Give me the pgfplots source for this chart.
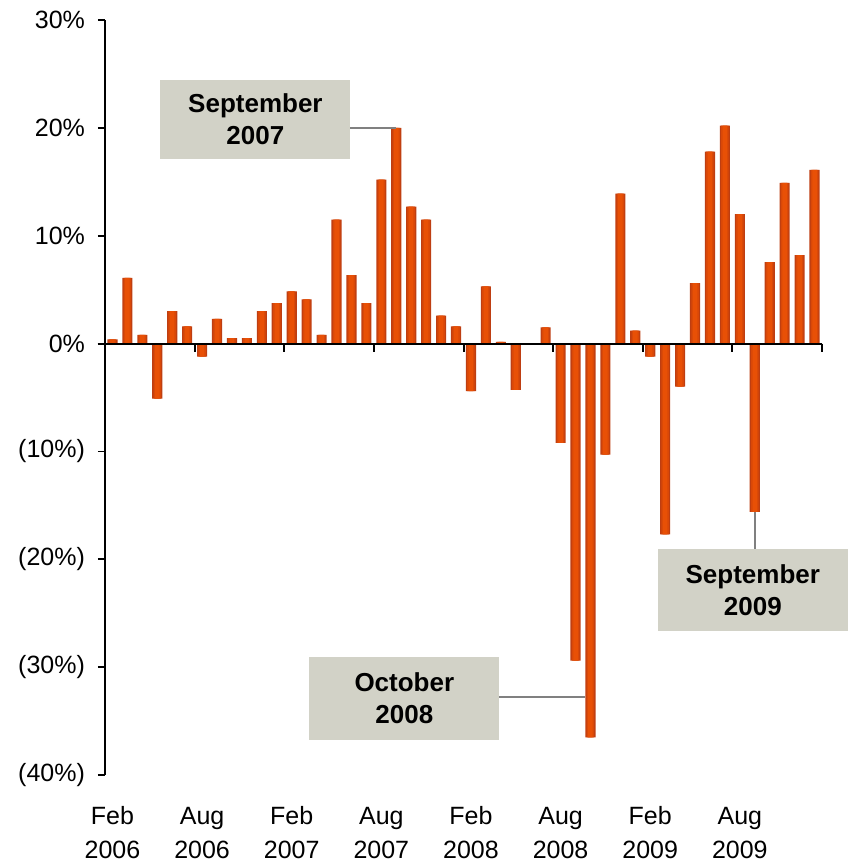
\documentclass[border=0pt]{standalone}
\usepackage{fontspec}
\setmainfont{Liberation Sans}
\usepackage{pgfplots}
\pgfplotsset{compat=1.18}
\definecolor{baredge}{HTML}{BE3E12}
\definecolor{barmix}{HTML}{D94808}
\definecolor{barmid}{HTML}{E85006}
\definecolor{boxfill}{HTML}{D2D2C7}
\definecolor{linkgray}{HTML}{808080}

% monthly change, Feb 2006 .. Jan 2010 (index 0..47)
\pgfplotstableread{
idx val
0 0.4
1 6.1
2 0.8
3 -5.1
4 3.0
5 1.6
6 -1.2
7 2.3
8 0.5
9 0.5
10 3.0
11 3.75
12 4.85
13 4.1
14 0.8
15 11.5
16 6.35
17 3.75
18 15.2
19 20.0
20 12.7
21 11.5
22 2.6
23 1.6
24 -4.4
25 5.3
26 0.15
27 -4.3
28 0
29 1.5
30 -9.2
31 -29.4
32 -36.5
33 -10.3
34 13.9
35 1.2
36 -1.2
37 -17.7
38 -4.0
39 5.6
40 17.8
41 20.2
42 12.0
43 -15.6
44 7.55
45 14.9
46 8.2
47 16.1
}\monthly

\begin{document}
\begin{tikzpicture}
\useasboundingbox (-52.5pt,-43pt) rectangle (373.5pt,387.5pt);
\begin{axis}[
  scale only axis,
  width=358.5pt, height=377.5pt,
  xmin=-0.5, xmax=47.5,
  ymin=-40, ymax=30,
  enlargelimits=false,
  clip=false,
  axis y line*=left,
  axis x line*=bottom,
  x axis line style={draw=none},
  y axis line style={line width=1pt, -},
  tick align=outside,
  major tick length=3.5pt,
  ytick={-40,-30,-20,-10,0,10,20,30},
  yticklabels={(40\%),(30\%),(20\%),(10\%),0\%,10\%,20\%,30\%},
  ytick style={line width=0.8pt, black},
  yticklabel style={font=\fontsize{12.5}{15}\selectfont, xshift=-3pt},
  xtick={0,6,12,18,24,30,36,42},
  xticklabels={{\strut Feb\\2006},{\strut Aug\\2006},{\strut Feb\\2007},{\strut Aug\\2007},
    {\strut Feb\\2008},{\strut Aug\\2008},{\strut Feb\\2009},{\strut Aug\\2009}},
  xtick style={draw=none},
  xticklabel style={align=center, font=\fontsize{12.5}{17}\selectfont, inner sep=1pt, yshift=-8pt},
]
% bars in three layers: dark edges, then lighter cores
\addplot[ybar, bar width=0.68, draw=none, fill=baredge] table[x=idx, y=val] {\monthly};
\addplot[ybar, bar width=0.50, draw=none, fill=barmix] table[x=idx, y=val] {\monthly};
\addplot[ybar, bar width=0.30, draw=none, fill=barmid] table[x=idx, y=val] {\monthly};

% zero line and month ticks
\draw[line width=1pt] (axis cs:-1,0) -- (axis cs:47.5,0);
\pgfplotsinvokeforeach{-0.5,5.5,11.5,17.5,23.5,29.5,35.5,41.5,47.5}{
  \draw[line width=1pt] (axis cs:#1,0) -- ([yshift=-4pt]axis cs:#1,0);
}

% callouts
\node[fill=boxfill, minimum width=95pt, minimum height=39.5pt, align=center,
  font=\bfseries\fontsize{13}{16}\selectfont] at (axis cs:9.57,20.76) {September\\2007};
\draw[linkgray, line width=1pt] (axis cs:15.93,20) -- (axis cs:19,20);

\node[fill=boxfill, minimum width=95pt, minimum height=41.5pt, align=center,
  font=\bfseries\fontsize{13}{16}\selectfont] at (axis cs:19.54,-32.9) {October\\2008};
\draw[linkgray, line width=1pt] (axis cs:25.9,-32.8) -- (axis cs:31.66,-32.8);

\node[fill=boxfill, minimum width=95pt, minimum height=41pt, align=center,
  font=\bfseries\fontsize{13}{16}\selectfont] at (axis cs:42.87,-22.85) {September\\2009};
\draw[linkgray, line width=1pt] (axis cs:43,-15.6) -- (axis cs:43,-19.05);
\end{axis}
\end{tikzpicture}
\end{document}
